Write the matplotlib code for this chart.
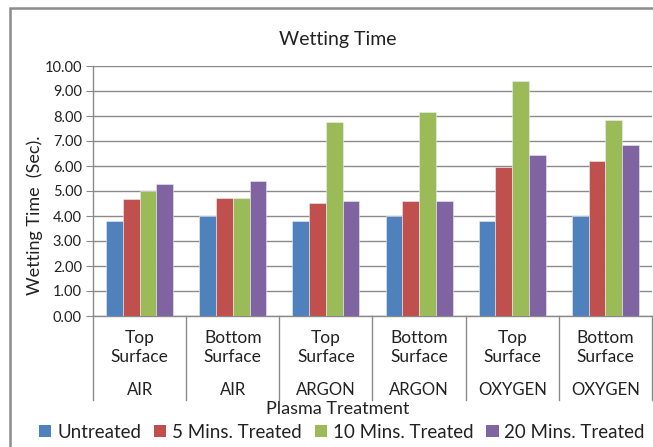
import numpy as np
import matplotlib.pyplot as plt
from matplotlib.patches import Rectangle, Patch

plt.rcParams['font.family'] = ['Lato', 'DejaVu Sans']

surfaces = ["Top\nSurface", "Bottom\nSurface", "Top\nSurface",
            "Bottom\nSurface", "Top\nSurface", "Bottom\nSurface"]
gases = ["AIR", "AIR", "ARGON", "ARGON", "OXYGEN", "OXYGEN"]
series_names = ["Untreated", "5 Mins. Treated", "10 Mins. Treated", "20 Mins. Treated"]
untreated = [3.80, 4.00, 3.80, 4.00, 3.80, 4.00]
treated_5 = [4.67, 4.72, 4.51, 4.59, 5.95, 6.20]
treated_10 = [5.00, 4.72, 7.77, 8.17, 9.38, 7.85]
treated_20 = [5.29, 5.41, 4.59, 4.59, 6.44, 6.83]
colors = ["#4F81BD", "#C0504D", "#9BBB59", "#8064A2"]

fig = plt.figure(figsize=(6.53, 4.47), dpi=100)
ax = fig.add_axes([93 / 653, 131 / 447, 559 / 653, 250 / 447])

# outer chart frame
fig.patches.append(Rectangle((10 / 653, -0.2), 1.2, 1.2 + (447 - 8) / 447 - 1.0,
                             transform=fig.transFigure, fill=False,
                             edgecolor="#8c8c8c", linewidth=1.8))

x = np.arange(len(surfaces))
w = 0.18
data = [untreated, treated_5, treated_10, treated_20]
for i, vals in enumerate(data):
    ax.bar(x + (i - 1.5) * w, vals, w, color=colors[i],
           edgecolor="#e8eef6", linewidth=0.4, zorder=3)

ax.set_xlim(-0.5, len(surfaces) - 0.5)
ax.set_ylim(0, 10)
ax.set_yticks(np.arange(0, 11, 1))
ax.set_yticklabels([f"{v:.2f}" for v in range(11)], fontsize=10.5, color="#222222")
ax.yaxis.grid(True, color="#8a8a8a", linewidth=1.0, zorder=0)
ax.tick_params(axis="y", length=5, color="#8a8a8a", pad=3)
ax.set_xticks([])
for s in ["top", "right"]:
    ax.spines[s].set_visible(False)
for s in ["left", "bottom"]:
    ax.spines[s].set_color("#8a8a8a")
    ax.spines[s].set_linewidth(1.0)

trans = ax.get_xaxis_transform()
for b in np.arange(-0.5, len(surfaces), 1.0):
    ax.plot([b, b], [0, -0.336], transform=trans, color="#8a8a8a",
            linewidth=1.0, clip_on=False)
for xi, (s, g) in enumerate(zip(surfaces, gases)):
    ax.text(xi, -0.126, s, transform=trans, ha="center", va="center",
            fontsize=12.5, color="#222222", linespacing=1.3)
    ax.text(xi, -0.296, g, transform=trans, ha="center", va="center",
            fontsize=12, color="#222222")

fig.text(338 / 653, (447 - 409) / 447, "Plasma Treatment", ha="center",
         va="center", fontsize=13, color="#222222")
fig.text(338 / 653, (447 - 40) / 447, "Wetting Time", ha="center",
         va="center", fontsize=14, color="#222222")
fig.text(35 / 653, (447 - 215) / 447, "Wetting Time  (Sec).", rotation=90,
         ha="center", va="center", fontsize=13, color="#222222")

handles = [Patch(facecolor=c, edgecolor="none") for c in colors]
fig.legend(handles, series_names, loc="center", ncol=4,
           bbox_to_anchor=(342 / 653, (447 - 432) / 447), frameon=False,
           fontsize=13.5, handlelength=0.65, handleheight=0.65,
           handletextpad=0.3, columnspacing=0.7, borderaxespad=0,
           labelcolor="#222222")

fig.savefig("out.png", dpi=100)
